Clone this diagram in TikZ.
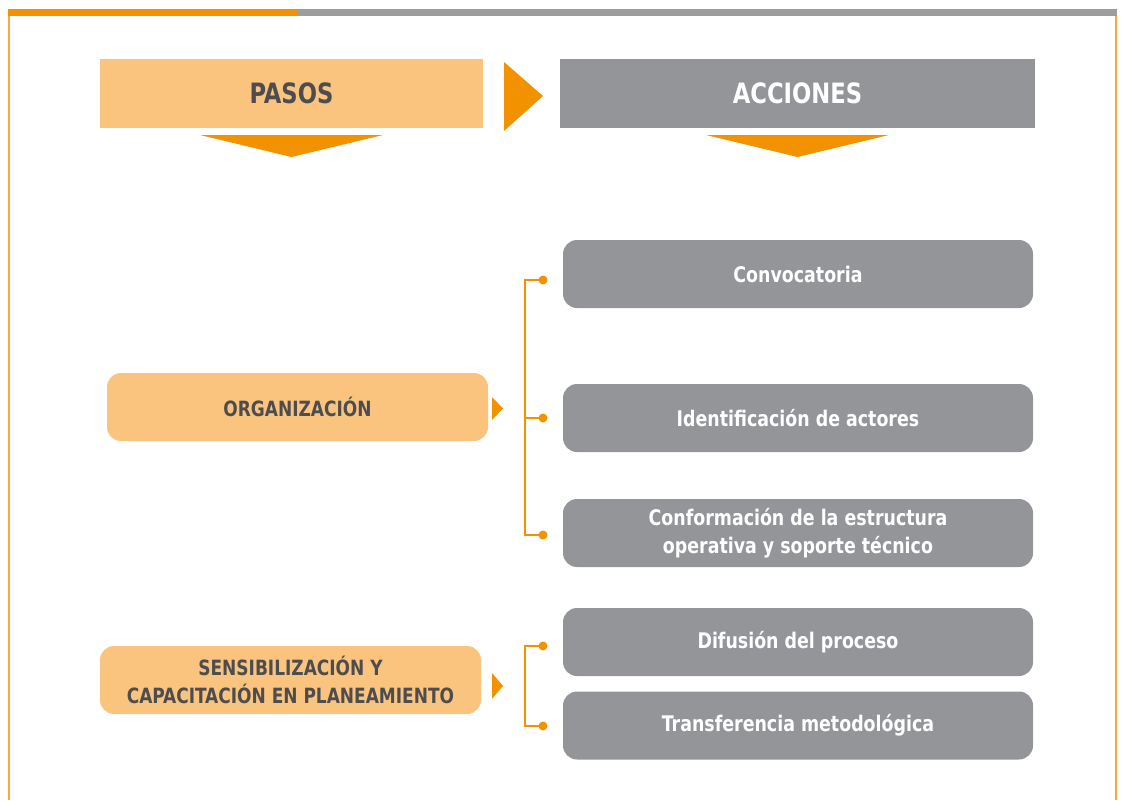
\documentclass[tikz,border=0pt]{standalone}
\usepackage{fontspec}
\setmainfont{DejaVu Sans Condensed}[FakeStretch=0.9]
\usetikzlibrary{positioning}
\definecolor{naranja}{HTML}{F39200}
\definecolor{naranjaclaro}{HTML}{FAC47F}
\definecolor{marco}{HTML}{F9A73E}
\definecolor{gris}{HTML}{939598}
\definecolor{grisbarra}{HTML}{9D9D9D}
\definecolor{textoosc}{HTML}{4D4D4F}
\tikzset{
  cabecera/.style={minimum height=69, inner sep=0pt, font=\fontsize{28}{30}\selectfont\bfseries},
  pasobox/.style={fill=naranjaclaro, rounded corners=14, minimum width=381, minimum height=68,
    inner sep=0pt, align=center, text=textoosc, font=\fontsize{21}{28}\selectfont\bfseries},
  accionbox/.style={fill=gris, rounded corners=14, minimum width=470, minimum height=68,
    inner sep=0pt, align=center, text=white, font=\fontsize{21.5}{28}\selectfont\bfseries},
  llave/.style={draw=naranja, line width=1.5},
  punto/.style={circle, fill=naranja, inner sep=0pt, minimum size=9},
}
\begin{document}
\begin{tikzpicture}[x=1pt,y=-1pt]
	\useasboundingbox (0,0) rectangle (1126,800);
	% marco de la pagina
	\fill[naranja] (8,9) rectangle (297,16);
	\fill[grisbarra] (297,9) rectangle (1117,16);
	\draw[marco, line width=2] (9,16) -- (9,800);
	\draw[marco, line width=2] (1116,16) -- (1116,800);
	% cabeceras
	\node[cabecera, fill=naranjaclaro, text=textoosc, minimum width=383] (pasos) at (291.5,93.5) {PASOS};
	\node[cabecera, fill=gris, text=white, minimum width=475] (acciones) at (797.5,93.5) {ACCIONES};
	\fill[naranja] (504,62) -- (543,96) -- (504,131) -- cycle;
	\fill[naranja] (200,135) -- (383,135) -- (291.5,157) -- cycle;
	\fill[naranja] (706,135) -- (889,135) -- (797.5,157) -- cycle;
	% pasos
	\node[pasobox] (organizacion) at (297.5,407) {ORGANIZACIÓN};
	\node[pasobox] (sensibilizacion) at (290.5,680) {SENSIBILIZACIÓN Y\\CAPACITACIÓN EN PLANEAMIENTO};
	\fill[naranja] (492,397) -- (503,408.5) -- (492,420) -- cycle;
	\fill[naranja] (492,673) -- (503,686) -- (492,699) -- cycle;
	% acciones
	\node[accionbox] (convocatoria) at (798,274) {Convocatoria};
	\node[accionbox] (actores) at (798,418) {Identificación de actores};
	\node[accionbox] (estructura) at (798,533) {Conformación de la estructura\\operativa y soporte técnico};
	\node[accionbox] (difusion) at (798,642) {Difusión del proceso};
	\node[accionbox] (transferencia) at (798,725.5) {Transferencia metodológica};
	% llaves
	\node[punto] (p1) at (543,280) {};
	\node[punto] (p2) at (543,418) {};
	\node[punto] (p3) at (543,535) {};
	\node[punto] (p4) at (543,646) {};
	\node[punto] (p5) at (543,726) {};
	\draw[llave] (p1.center) -- (525,280) -- (525,535) -- (p3.center);
	\draw[llave] (525,418) -- (p2.center);
	\draw[llave] (p4.center) -- (525,646) -- (525,726) -- (p5.center);
\end{tikzpicture}
\end{document}
